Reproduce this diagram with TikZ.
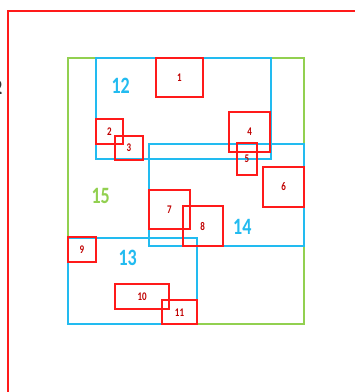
\documentclass[tikz,border=0pt]{standalone}
\usepackage{fontspec}
\setmainfont{Carlito}
\definecolor{rline}{HTML}{FF1A1A}
\definecolor{rtext}{HTML}{C00000}
\definecolor{bline}{HTML}{22BBF0}
\definecolor{gline}{HTML}{92D050}
\tikzset{
  px/.style={x=1pt,y=-1pt},
  redbox/.style={draw=rline,line width=2pt,rectangle,inner sep=0pt,font=\fontsize{9}{9}\selectfont\bfseries,text=rtext},
  bluebox/.style={draw=bline,line width=2pt,rectangle,inner sep=0pt},
  greenbox/.style={draw=gline,line width=2pt,rectangle,inner sep=0pt},
  biglabel/.style={inner sep=0pt,font=\fontsize{18}{18}\selectfont\bfseries},
}
\newcommand{\tallt}[1]{\scalebox{1}[1.3]{#1}}
\begin{document}
\begin{tikzpicture}[px]
\useasboundingbox (0,0) rectangle (355,392);
\clip (0,0) rectangle (355,392);
\fill[white] (0,0) rectangle (355,392);
% outer frame
\coordinate (oa) at (7.5,10.7);
\coordinate (ob) at (370,410);
\draw[rline,line width=2pt] (oa) rectangle (ob);
\node[anchor=east,inner sep=0pt,text=black!80,font=\fontsize{16}{16}\selectfont\bfseries] (cut) at (2.5,88) {\tallt{2}};
% containers
\node[greenbox,minimum width=236pt,minimum height=266.6pt] (g15) at (186,191) {};
\node[bluebox,minimum width=175pt,minimum height=101.6pt] (b12) at (183.2,108.5) {};
\node[bluebox,minimum width=155pt,minimum height=102pt] (b14) at (226.5,195) {};
\node[bluebox,minimum width=128.4pt,minimum height=86.6pt] (b13) at (132.5,281) {};
% big labels
\node[biglabel,text=bline] (l12) at (120.7,86) {\tallt{12}};
\node[biglabel,text=gline] (l15) at (100.7,196) {\tallt{15}};
\node[biglabel,text=bline] (l14) at (242.3,226.7) {\tallt{14}};
\node[biglabel,text=bline] (l13) at (127.7,258.3) {\tallt{13}};
% red boxes
\node[redbox,minimum width=47.3pt,minimum height=39pt] (r1) at (179.3,77.8) {\tallt{1}};
\node[redbox,minimum width=26.7pt,minimum height=25pt] (r2) at (109.3,131.5) {\tallt{2}};
\node[redbox,minimum width=27.7pt,minimum height=24.3pt] (r3) at (128.8,147.8) {\tallt{3}};
\node[redbox,minimum width=40.7pt,minimum height=40.6pt] (r4) at (249.7,132) {\tallt{4}};
\node[redbox,minimum width=20.3pt,minimum height=31.7pt] (r5) at (246.8,159.2) {\tallt{5}};
\node[redbox,minimum width=40.7pt,minimum height=39.4pt] (r6) at (283.7,187) {\tallt{6}};
\node[redbox,minimum width=41pt,minimum height=39.3pt] (r7) at (169.5,209.7) {\tallt{7}};
\node[redbox,minimum width=40pt,minimum height=40pt] (r8) at (202.7,226) {\tallt{8}};
\node[redbox,minimum width=27.4pt,minimum height=24.4pt] (r9) at (82,249.5) {\tallt{9}};
\node[redbox,minimum width=54.3pt,minimum height=25.3pt] (r10) at (142.2,296.7) {\tallt{10}};
\node[redbox,minimum width=34.4pt,minimum height=24.3pt] (r11) at (179.5,312.2) {\tallt{11}};
\end{tikzpicture}
\end{document}
